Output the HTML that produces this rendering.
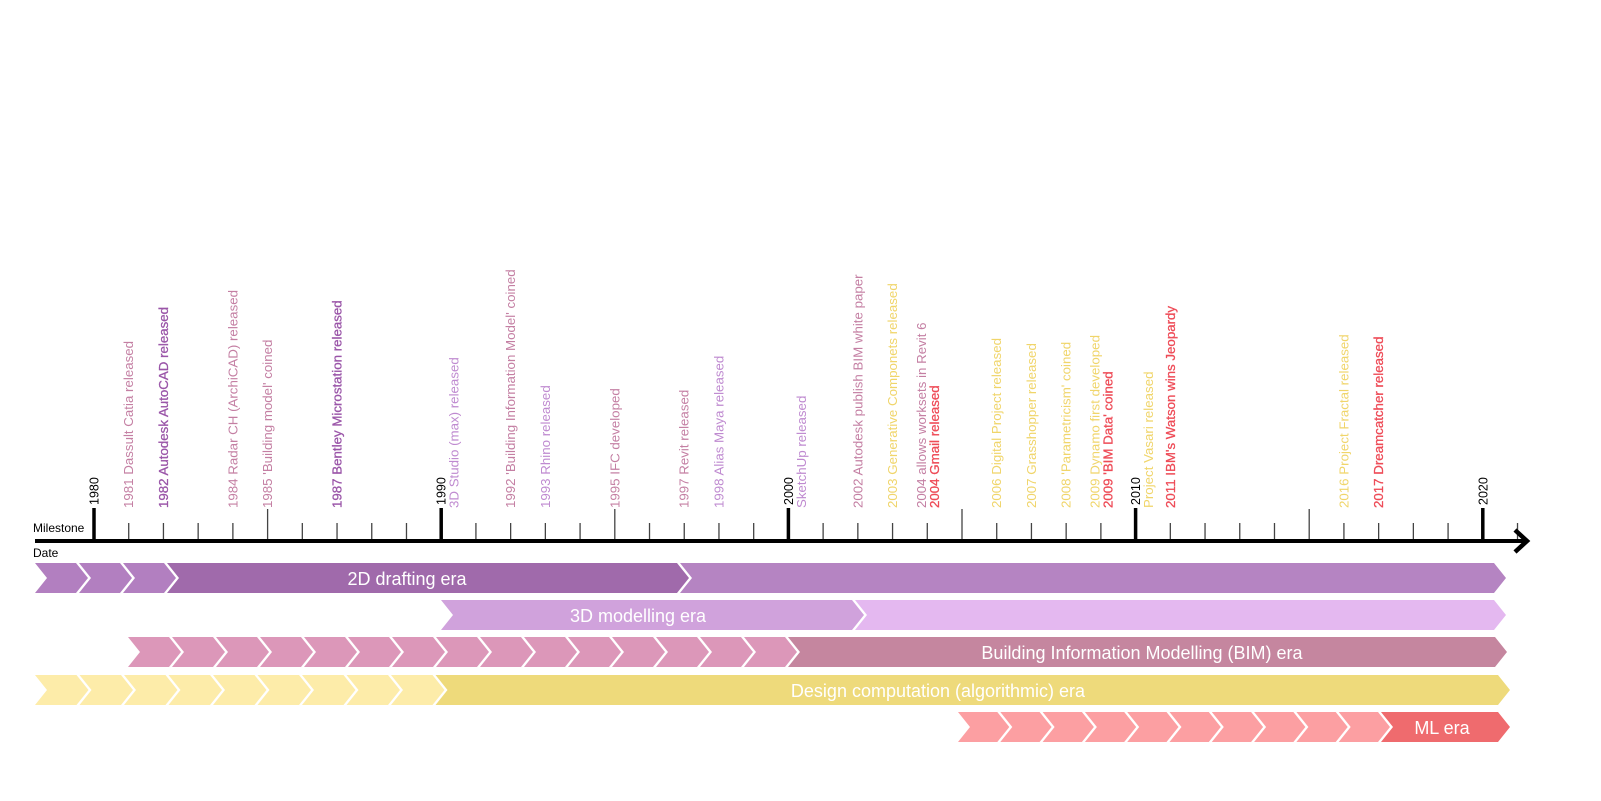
<!DOCTYPE html>
<html><head><meta charset="utf-8"><style>
body{margin:0;background:#fff;}
svg{display:block;font-family:"Liberation Sans",sans-serif;}
</style></head><body>
<svg id="s" width="1601" height="801" xmlns="http://www.w3.org/2000/svg"></svg>
<script>
const s=document.getElementById('s');let h='';
const X=y=>94+(y-1980)*34.72;
for(let y=1981;y<=2021;y++){if(y%10==0)continue;const x=X(y);const top=(y%5==0)?509:523;
h+=`<line x1="${x}" y1="${top}" x2="${x}" y2="541" stroke="#444" stroke-width="1.3"/>`;}
h+=`<line x1="35" y1="541" x2="1524" y2="541" stroke="#000" stroke-width="4"/>`;
h+=`<polyline points="1515,530 1527,541 1515,552" fill="none" stroke="#000" stroke-width="4.5"/>`;
for(const y of [1980,1990,2000,2010,2020]){const x=X(y);
h+=`<line x1="${x}" y1="508" x2="${x}" y2="541" stroke="#000" stroke-width="3.5"/>`;
h+=`<text transform="translate(${x+4.5},505) rotate(-90)" font-size="12.5" fill="#000">${y}</text>`;}
h+=`<text x="33" y="532" font-size="12">Milestone</text><text x="33" y="557" font-size="12">Date</text>`;
const P='#c47fa3',D='#9a55a8',L='#bf8ad0',Y='#f0d56a',R='#ee4b57';
const labs=[[1981,0,P,'1981 Dassult Catia released'],[1982,0,D,'1982 Autodesk AutoCAD released',1],[1984,0,P,'1984 Radar CH (ArchiCAD) released'],[1985,0,P,"1985 'Building model' coined"],[1987,0,D,'1987 Bentley Microstation released',1],[1990,0,L,'3D Studio (max) released'],[1992,0,P,"1992 'Building Information Model' coined"],[1993,0,L,'1993 Rhino released'],[1995,0,P,'1995 IFC developed'],[1997,0,P,'1997 Revit released'],[1998,0,L,'1998 Alias Maya released'],[2000,0,L,'SketchUp released'],[2002,0,P,'2002 Autodesk publish BIM white paper'],[2003,0,Y,'2003 Generative Componets released'],[2004,-6,P,'2004 allows worksets in Revit  6'],[2004,7,R,'2004 Gmail released',1],[2006,0,Y,'2006 Digital Project released'],[2007,0,Y,'2007 Grasshopper  released'],[2008,0,Y,"2008 'Parametricism' coined"],[2009,-6,Y,'2009 Dynamo first developed'],[2009,7,R,"2009 'BIM Data' coined",1],[2010,0,Y,'Project Vasari released'],[2011,0,R,"2011 IBM's Watson wins Jeopardy",1],[2016,0,Y,'2016 Project Fractal released'],[2017,0,R,'2017 Dreamcatcher released',1]];
for(const [y,o,c,t,b2] of labs){let x=X(y)+4.5+o;let b=508;if(y==1990||y==2000||y==2010){x+=13;}
h+=`<text transform="translate(${x},${b}) rotate(-90)" font-size="13.3" ${b2?'stroke="'+c+'" stroke-width="0.3"':''} fill="${c}">${t}</text>`;}
function chev(x,y,w,hh,c){const d=12,m=y+hh/2;
return `<polygon points="${x},${y} ${x+w},${y} ${x+w+d},${m} ${x+w},${y+hh} ${x},${y+hh} ${x+d},${m}" fill="${c}"/>`;}
function row(y,start,n,cw,cc,mid,mc,end,ec,txt,tx){let x=start;
for(let i=0;i<n;i++){h+=chev(x,y,cw-3,30,cc);x+=cw;}
if(mid){h+=chev(x,y,mid-x-3,30,mc);x=mid;}
h+=chev(x,y,end-x-12,30,ec);
h+=`<text x="${tx}" y="${y+22}" font-size="18" fill="#fff" text-anchor="middle">${txt}</text>`;}
row(563,35,3,44,'#b27fc0',680,'#a06aab',1506,'#b584c2','2D drafting era',407);
row(600,441,0,0,'',855,'#d0a2dc',1506,'#e4b8f0','3D modelling era',638);
row(637,128,15,44,'#dc97b9',0,'',1507,'#c5869f','Building Information Modelling (BIM) era',1142);
row(675,35,9,44.5,'#fdeca9',0,'',1510,'#eeda7b','Design computation (algorithmic) era',938);
row(712,958,10,42.3,'#fc9fa2',0,'',1510,'#ef6b6e','ML era',1442);
s.innerHTML=h;
</script>
</body></html>
